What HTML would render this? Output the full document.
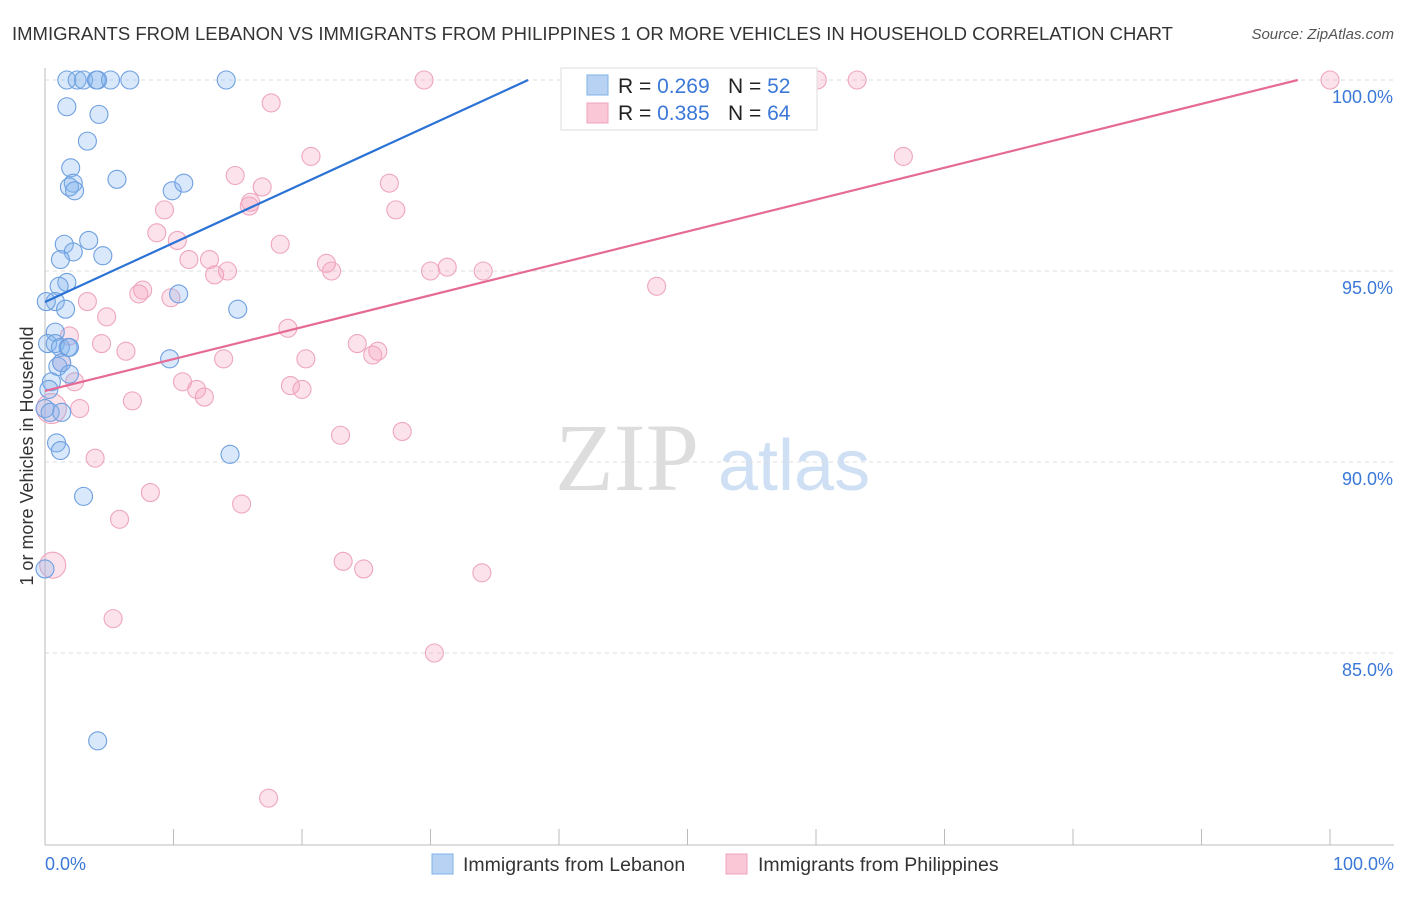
<!DOCTYPE html>
<html><head><meta charset="utf-8">
<style>
body{margin:0;background:#fff;font-family:"Liberation Sans",sans-serif;}
svg text{font-family:"Liberation Sans",sans-serif;}
</style></head>
<body>
<svg id="chart" width="1406" height="892" xmlns="http://www.w3.org/2000/svg">
<text x="12" y="40" font-size="18.6" fill="#333" textLength="1161" lengthAdjust="spacingAndGlyphs">IMMIGRANTS FROM LEBANON VS IMMIGRANTS FROM PHILIPPINES 1 OR MORE VEHICLES IN HOUSEHOLD CORRELATION CHART</text>
<text x="1394" y="39" font-size="15" fill="#555" text-anchor="end" font-style="italic">Source: ZipAtlas.com</text>
<text x="0" y="0" transform="translate(33,456) rotate(-90)" font-size="18" fill="#333" text-anchor="middle">1 or more Vehicles in Household</text>
<text x="555" y="490" font-size="96" fill="#ddd" style="font-family:'Liberation Serif',serif">ZIP</text>
<text x="718" y="490" font-size="72" fill="#cfe0f5">atlas</text>
<g id="grid"></g>
<g id="axes"></g>
<g id="pts"></g>
<g id="lines"></g>
<g>
<rect x="561" y="68" width="256" height="62" fill="#fff" stroke="#ddd"/>
<rect x="587" y="75" width="21" height="20" fill="#b7d2f3" stroke="#7fb0ea"/>
<rect x="587" y="103" width="21" height="20" fill="#f9c7d6" stroke="#efa3bb"/>
<text x="618" y="93" font-size="21" fill="#222">R = <tspan fill="#3b78d8">0.269</tspan></text>
<text x="728" y="93" font-size="21" fill="#222">N = <tspan fill="#3b78d8">52</tspan></text>
<text x="618" y="120" font-size="21" fill="#222">R = <tspan fill="#3b78d8">0.385</tspan></text>
<text x="728" y="120" font-size="21" fill="#222">N = <tspan fill="#3b78d8">64</tspan></text>
</g>
<g>
<rect x="432" y="854" width="21" height="20" fill="#b7d2f3" stroke="#7fb0ea"/>
<text x="463" y="871" font-size="19.5" fill="#333">Immigrants from Lebanon</text>
<rect x="726" y="854" width="21" height="20" fill="#f9c7d6" stroke="#efa3bb"/>
<text x="758" y="871" font-size="19.5" fill="#333">Immigrants from Philippines</text>
</g>
</svg>
<script>
const yTicks=[100,95,90,85];
const xTickLabels=["0.0%","100.0%"];
const blueX=[1.7,2.5,3.0,4.1,4.0,5.1,6.6,14.1,42.4,1.7,4.2,3.3,2.0,2.2,1.9,2.3,5.6,9.9,10.8,1.5,3.4,2.2,1.2,4.5,1.7,1.1,0.8,1.6,10.4,15.0,0.8,0.2,0.8,1.2,1.8,1.0,1.3,1.9,0.5,0.3,9.7,0,0.4,1.3,0.9,1.2,14.4,3.0,4.1,0,1.9,0.1];
const blueY=[100,100,100,100,100,100,100,100,100,99.3,99.1,98.4,97.7,97.3,97.2,97.1,97.4,97.1,97.3,95.7,95.8,95.5,95.3,95.4,94.7,94.6,94.2,94.0,94.4,94.0,93.4,93.1,93.1,93.0,93.0,92.5,92.6,92.3,92.1,91.9,92.7,91.4,91.3,91.3,90.5,90.3,90.2,89.1,82.7,87.2,93.0,94.2];
const pinkX=[29.5,60.1,63.2,100,17.6,20.7,66.8,14.8,16.9,26.8,9.3,16.0,15.9,27.3,8.7,10.3,18.3,11.2,12.8,14.2,13.2,21.9,22.3,30.0,31.3,34.1,47.6,7.6,7.3,3.3,9.8,4.8,18.9,1.9,4.4,24.3,6.3,25.9,25.5,13.9,20.3,1.3,2.3,10.7,11.8,19.1,20.0,12.4,2.7,6.8,0.5,23.0,27.8,3.9,8.2,15.3,5.8,23.2,24.8,34.0,0.6,5.3,30.3,17.4];
const pinkY=[100,100,100,100,99.4,98.0,98.0,97.5,97.2,97.3,96.6,96.8,96.7,96.6,96.0,95.8,95.7,95.3,95.3,95.0,94.9,95.2,95.0,95.0,95.1,95.0,94.6,94.5,94.4,94.2,94.3,93.8,93.5,93.3,93.1,93.1,92.9,92.9,92.8,92.7,92.7,92.6,92.1,92.1,91.9,92.0,91.9,91.7,91.4,91.6,91.4,90.7,90.8,90.1,89.2,88.9,88.5,87.4,87.2,87.1,87.3,85.9,85.0,81.2];
const pinkR=[9,9,9,9,9,9,9,9,9,9,9,9,9,9,9,9,9,9,9,9,9,9,9,9,9,9,9,9,9,9,9,9,9,9,9,9,9,9,9,9,9,9,9,9,9,9,9,9,9,9,15,9,9,9,9,9,9,9,9,9,13,9,9,9];
const blueLine=[[0,94.19],[37.6,100]];
const pinkLine=[[0,91.86],[97.5,100]];
const NS="http://www.w3.org/2000/svg";
const X=v=>45+v*12.85, Y=v=>80+(100-v)*38.2;
function mk(t,a,p){const e=document.createElementNS(NS,t);for(const k in a)e.setAttribute(k,a[k]);p.appendChild(e);return e;}
const grid=document.getElementById('grid'),axes=document.getElementById('axes'),pts=document.getElementById('pts'),lines=document.getElementById('lines');
yTicks.forEach(t=>{
 const l=mk('line',{x1:45,x2:1394,y1:Y(t),y2:Y(t),stroke:'#ddd','stroke-dasharray':'4,4'},grid);
 
 
 const tx=mk('text',{x:1393,y:Y(t)+23,'font-size':18,fill:'#3b78d8','text-anchor':'end'},axes);
 tx.textContent=t.toFixed(1)+'%';
 
 
});
const ax=mk('line',{x1:45,x2:45,y1:68,y2:845,stroke:'#bbb'},axes);


const bx=mk('line',{x1:45,x2:1394,y1:845,y2:845,stroke:'#bbb'},axes);


for(let i=0;i<=10;i++){
 const t=mk('line',{x1:X(i*10),x2:X(i*10),y1:829,y2:845,stroke:'#bbb'},axes);
 
 
}
[[0,'start',45],[1,'end',1394]].forEach(([i,a,x])=>{
 const t=mk('text',{x:x,y:870,'font-size':18,fill:'#3b78d8','text-anchor':a},axes);
 t.textContent=xTickLabels[i];
 
 
});
function dots(xs,ys,rs,fill,stroke,name){
 xs.forEach((v,i)=>{
  const c=mk('circle',{cx:X(v),cy:Y(ys[i]),r:rs?rs[i]:9,fill:fill,stroke:stroke,'stroke-width':1.1},pts);
  
  
 });
}
dots(pinkX,pinkY,pinkR,'rgba(244,160,188,0.3)','#eea6bf','point-philippines');
dots(blueX,blueY,null,'rgba(130,180,240,0.3)','#6ea0e0','point-lebanon');
const bl=mk('line',{x1:X(blueLine[0][0]),y1:Y(blueLine[0][1]),x2:X(blueLine[1][0]),y2:Y(blueLine[1][1]),stroke:'#2a72d6','stroke-width':2.2},lines);


const pl=mk('line',{x1:X(pinkLine[0][0]),y1:Y(pinkLine[0][1]),x2:X(pinkLine[1][0]),y2:Y(pinkLine[1][1]),stroke:'#e56a95','stroke-width':2.2},lines);


</script>
</body></html>
